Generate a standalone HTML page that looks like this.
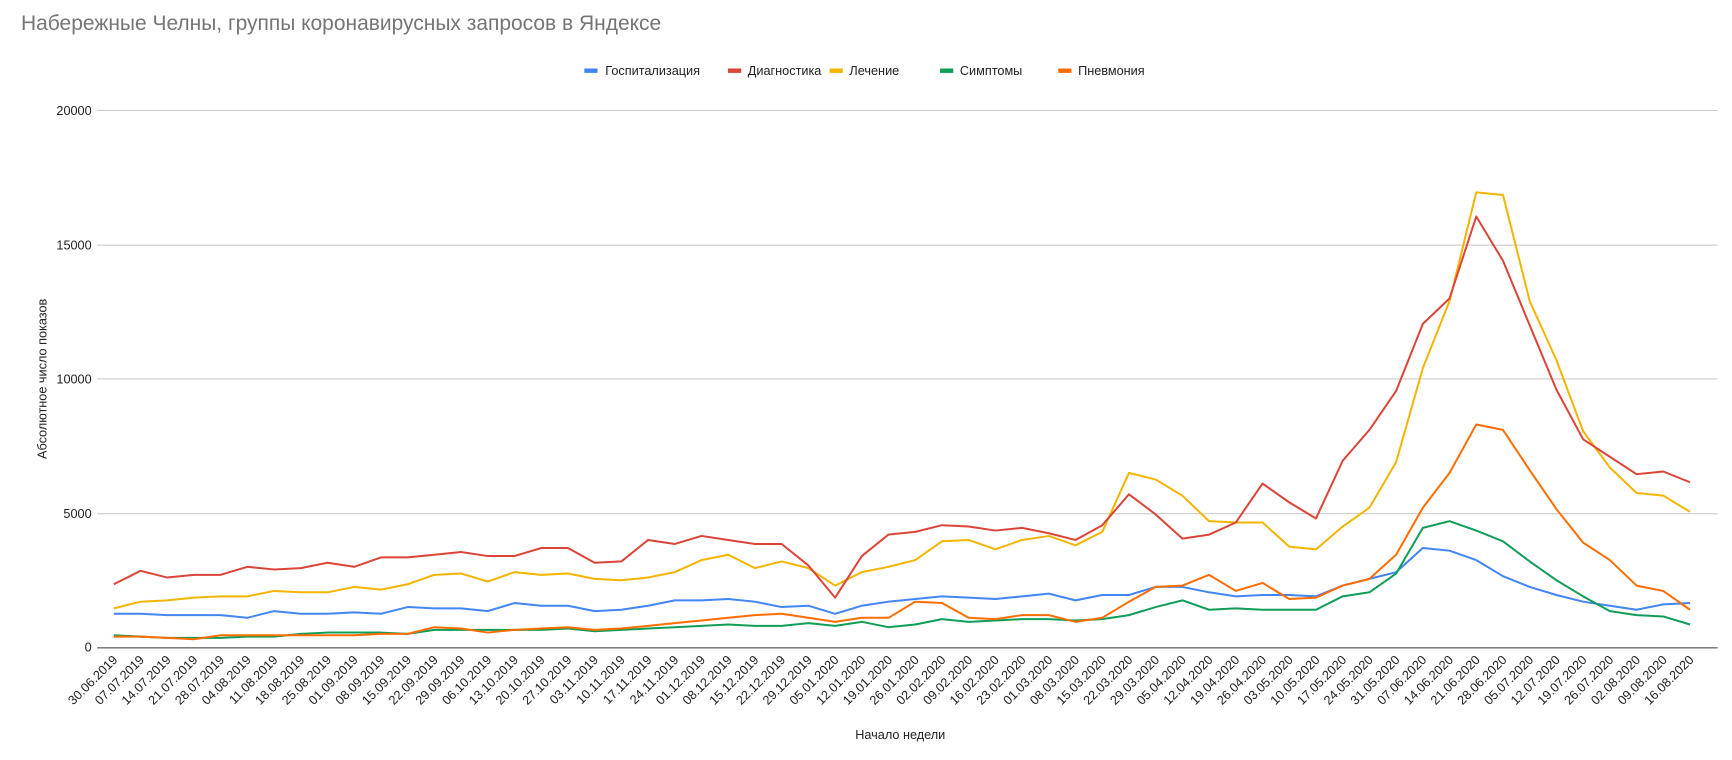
<!DOCTYPE html>
<html><head><meta charset="utf-8"><style>
html,body{margin:0;padding:0;background:#fff;}
svg{display:block;}
text{font-family:"Liberation Sans",Arial,sans-serif;}
</style></head><body>
<svg width="1732" height="760" viewBox="0 0 1568 688" preserveAspectRatio="none" xmlns="http://www.w3.org/2000/svg">
<rect width="1568" height="688" fill="#fff"/>
<text x="19" y="27" font-size="19" fill="#757575">Набережные Челны, группы коронавирусных запросов в Яндексе</text>
<g font-size="11.5" fill="#222">
<rect x="529" y="62" width="12" height="4" fill="#4285f4"/><text x="548" y="68">Госпитализация</text>
<rect x="659" y="62" width="12" height="4" fill="#db4437"/><text x="677" y="68">Диагностика</text>
<rect x="751" y="62" width="12" height="4" fill="#f4b400"/><text x="769" y="68">Лечение</text>
<rect x="851" y="62" width="12" height="4" fill="#0f9d58"/><text x="869" y="68">Симптомы</text>
<rect x="958" y="62" width="12" height="4" fill="#ff6d00"/><text x="976" y="68">Пневмония</text>
</g>
<g stroke="#cccccc" stroke-width="1">
<line x1="88" y1="100" x2="1555" y2="100"/><line x1="88" y1="222" x2="1555" y2="222"/>
<line x1="88" y1="343" x2="1555" y2="343"/><line x1="88" y1="465" x2="1555" y2="465"/>
</g>
<line x1="88" y1="586.5" x2="1555" y2="586.5" stroke="#333" stroke-width="1"/>
<g font-size="11.5" fill="#222" text-anchor="end">
<text x="83" y="104">20000</text><text x="83" y="226">15000</text><text x="83" y="347">10000</text><text x="83" y="469">5000</text><text x="83" y="590">0</text>
</g>
<text transform="translate(42,343) rotate(-90)" font-size="11.5" fill="#222" text-anchor="middle">Абсолютное число показов</text>
<text x="815" y="669" font-size="11.5" fill="#222" text-anchor="middle">Начало недели</text>
<g fill="none" stroke-width="2" stroke-linejoin="round" transform="translate(103,586) scale(24.186,-0.0243)">
<polyline vector-effect="non-scaling-stroke" stroke="#4285f4" points="0,1250 1,1250 2,1200 3,1200 4,1200 5,1100 6,1350 7,1250 8,1250 9,1300 10,1250 11,1500 12,1450 13,1450 14,1350 15,1650 16,1550 17,1550 18,1350 19,1400 20,1550 21,1750 22,1750 23,1800 24,1700 25,1500 26,1550 27,1250 28,1550 29,1700 30,1800 31,1900 32,1850 33,1800 34,1900 35,2000 36,1750 37,1950 38,1950 39,2250 40,2250 41,2050 42,1900 43,1950 44,1950 45,1900 46,2300 47,2550 48,2800 49,3700 50,3600 51,3250 52,2650 53,2250 54,1950 55,1700 56,1550 57,1400 58,1600 59,1650"/>
<polyline vector-effect="non-scaling-stroke" stroke="#0f9d58" points="0,450 1,400 2,350 3,350 4,350 5,400 6,400 7,500 8,550 9,550 10,550 11,500 12,650 13,650 14,650 15,650 16,650 17,700 18,600 19,650 20,700 21,750 22,800 23,850 24,800 25,800 26,900 27,800 28,950 29,750 30,850 31,1050 32,950 33,1000 34,1050 35,1050 36,1000 37,1050 38,1200 39,1500 40,1750 41,1400 42,1450 43,1400 44,1400 45,1400 46,1900 47,2050 48,2750 49,4450 50,4700 51,4350 52,3950 53,3200 54,2500 55,1900 56,1350 57,1200 58,1150 59,850"/>
<polyline vector-effect="non-scaling-stroke" stroke="#ff6d00" points="0,400 1,400 2,350 3,300 4,450 5,450 6,450 7,450 8,450 9,450 10,500 11,500 12,750 13,700 14,550 15,650 16,700 17,750 18,650 19,700 20,800 21,900 22,1000 23,1100 24,1200 25,1250 26,1100 27,950 28,1100 29,1100 30,1700 31,1650 32,1100 33,1050 34,1200 35,1200 36,950 37,1100 38,1700 39,2250 40,2300 41,2700 42,2100 43,2400 44,1800 45,1850 46,2300 47,2550 48,3450 49,5200 50,6500 51,8300 52,8100 53,6600 54,5150 55,3900 56,3250 57,2300 58,2100 59,1400"/>
<polyline vector-effect="non-scaling-stroke" stroke="#f4b400" points="0,1450 1,1700 2,1750 3,1850 4,1900 5,1900 6,2100 7,2050 8,2050 9,2250 10,2150 11,2350 12,2700 13,2750 14,2450 15,2800 16,2700 17,2750 18,2550 19,2500 20,2600 21,2800 22,3250 23,3450 24,2950 25,3200 26,2950 27,2300 28,2800 29,3000 30,3250 31,3950 32,4000 33,3650 34,4000 35,4150 36,3800 37,4300 38,6500 39,6250 40,5650 41,4700 42,4650 43,4650 44,3750 45,3650 46,4500 47,5200 48,6900 49,10400 50,12900 51,16950 52,16850 53,12900 54,10700 55,8050 56,6700 57,5750 58,5650 59,5050"/>
<polyline vector-effect="non-scaling-stroke" stroke="#db4437" points="0,2350 1,2850 2,2600 3,2700 4,2700 5,3000 6,2900 7,2950 8,3150 9,3000 10,3350 11,3350 12,3450 13,3550 14,3400 15,3400 16,3700 17,3700 18,3150 19,3200 20,4000 21,3850 22,4150 23,4000 24,3850 25,3850 26,3050 27,1850 28,3400 29,4200 30,4300 31,4550 32,4500 33,4350 34,4450 35,4250 36,4000 37,4550 38,5700 39,4950 40,4050 41,4200 42,4650 43,6100 44,5400 45,4800 46,6950 47,8100 48,9550 49,12050 50,13000 51,16050 52,14400 53,12000 54,9600 55,7750 56,7100 57,6450 58,6550 59,6150"/>
</g>
<g font-size="11.5" fill="#222" text-anchor="end">
<text transform="translate(107,598) rotate(-45)">30.06.2019</text>
<text transform="translate(131.2,598) rotate(-45)">07.07.2019</text>
<text transform="translate(155.4,598) rotate(-45)">14.07.2019</text>
<text transform="translate(179.6,598) rotate(-45)">21.07.2019</text>
<text transform="translate(203.7,598) rotate(-45)">28.07.2019</text>
<text transform="translate(227.9,598) rotate(-45)">04.08.2019</text>
<text transform="translate(252.1,598) rotate(-45)">11.08.2019</text>
<text transform="translate(276.3,598) rotate(-45)">18.08.2019</text>
<text transform="translate(300.5,598) rotate(-45)">25.08.2019</text>
<text transform="translate(324.7,598) rotate(-45)">01.09.2019</text>
<text transform="translate(348.9,598) rotate(-45)">08.09.2019</text>
<text transform="translate(373,598) rotate(-45)">15.09.2019</text>
<text transform="translate(397.2,598) rotate(-45)">22.09.2019</text>
<text transform="translate(421.4,598) rotate(-45)">29.09.2019</text>
<text transform="translate(445.6,598) rotate(-45)">06.10.2019</text>
<text transform="translate(469.8,598) rotate(-45)">13.10.2019</text>
<text transform="translate(494,598) rotate(-45)">20.10.2019</text>
<text transform="translate(518.2,598) rotate(-45)">27.10.2019</text>
<text transform="translate(542.3,598) rotate(-45)">03.11.2019</text>
<text transform="translate(566.5,598) rotate(-45)">10.11.2019</text>
<text transform="translate(590.7,598) rotate(-45)">17.11.2019</text>
<text transform="translate(614.9,598) rotate(-45)">24.11.2019</text>
<text transform="translate(639.1,598) rotate(-45)">01.12.2019</text>
<text transform="translate(663.3,598) rotate(-45)">08.12.2019</text>
<text transform="translate(687.5,598) rotate(-45)">15.12.2019</text>
<text transform="translate(711.7,598) rotate(-45)">22.12.2019</text>
<text transform="translate(735.8,598) rotate(-45)">29.12.2019</text>
<text transform="translate(760,598) rotate(-45)">05.01.2020</text>
<text transform="translate(784.2,598) rotate(-45)">12.01.2020</text>
<text transform="translate(808.4,598) rotate(-45)">19.01.2020</text>
<text transform="translate(832.6,598) rotate(-45)">26.01.2020</text>
<text transform="translate(856.8,598) rotate(-45)">02.02.2020</text>
<text transform="translate(881,598) rotate(-45)">09.02.2020</text>
<text transform="translate(905.1,598) rotate(-45)">16.02.2020</text>
<text transform="translate(929.3,598) rotate(-45)">23.02.2020</text>
<text transform="translate(953.5,598) rotate(-45)">01.03.2020</text>
<text transform="translate(977.7,598) rotate(-45)">08.03.2020</text>
<text transform="translate(1001.9,598) rotate(-45)">15.03.2020</text>
<text transform="translate(1026.1,598) rotate(-45)">22.03.2020</text>
<text transform="translate(1050.3,598) rotate(-45)">29.03.2020</text>
<text transform="translate(1074.4,598) rotate(-45)">05.04.2020</text>
<text transform="translate(1098.6,598) rotate(-45)">12.04.2020</text>
<text transform="translate(1122.8,598) rotate(-45)">19.04.2020</text>
<text transform="translate(1147,598) rotate(-45)">26.04.2020</text>
<text transform="translate(1171.2,598) rotate(-45)">03.05.2020</text>
<text transform="translate(1195.4,598) rotate(-45)">10.05.2020</text>
<text transform="translate(1219.6,598) rotate(-45)">17.05.2020</text>
<text transform="translate(1243.7,598) rotate(-45)">24.05.2020</text>
<text transform="translate(1267.9,598) rotate(-45)">31.05.2020</text>
<text transform="translate(1292.1,598) rotate(-45)">07.06.2020</text>
<text transform="translate(1316.3,598) rotate(-45)">14.06.2020</text>
<text transform="translate(1340.5,598) rotate(-45)">21.06.2020</text>
<text transform="translate(1364.7,598) rotate(-45)">28.06.2020</text>
<text transform="translate(1388.9,598) rotate(-45)">05.07.2020</text>
<text transform="translate(1413,598) rotate(-45)">12.07.2020</text>
<text transform="translate(1437.2,598) rotate(-45)">19.07.2020</text>
<text transform="translate(1461.4,598) rotate(-45)">26.07.2020</text>
<text transform="translate(1485.6,598) rotate(-45)">02.08.2020</text>
<text transform="translate(1509.8,598) rotate(-45)">09.08.2020</text>
<text transform="translate(1534,598) rotate(-45)">16.08.2020</text>
</g>
</svg>
</body></html>
